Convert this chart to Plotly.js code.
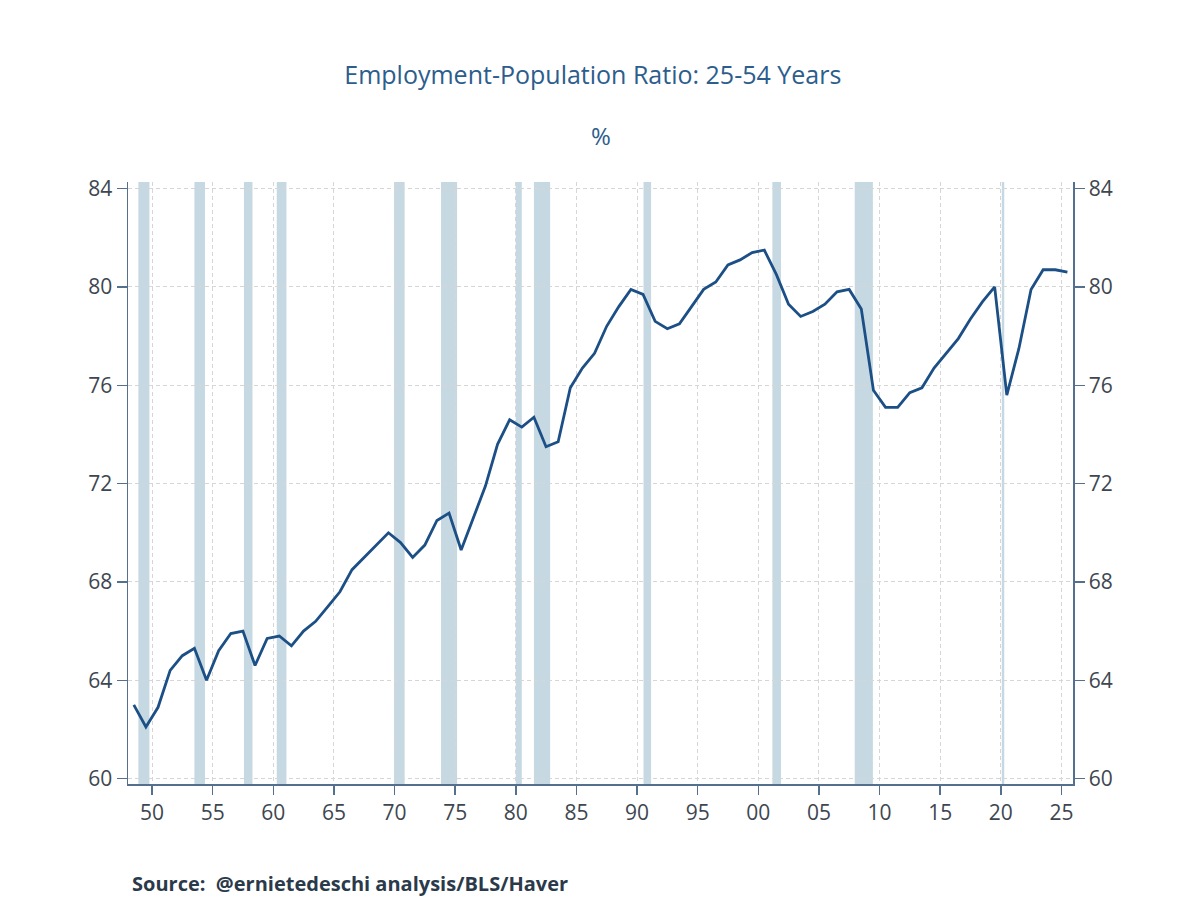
<!DOCTYPE html>
<html>
<head>
<meta charset="utf-8">
<script src="https://cdn.plot.ly/plotly-3.0.1.min.js"></script>
<style>html,body{margin:0;padding:0;background:#fff;}#chart{width:1200px;height:900px;}</style>
</head>
<body>
<div id="chart"></div>
<script>
// Annual averages, 25-54 employment-population ratio (%)
const years = [1948,1949,1950,1951,1952,1953,1954,1955,1956,1957,1958,1959,1960,1961,1962,1963,1964,1965,1966,1967,1968,1969,
  1970,1971,1972,1973,1974,1975,1976,1977,1978,1979,1980,1981,1982,1983,1984,1985,1986,1987,1988,1989,
  1990,1991,1992,1993,1994,1995,1996,1997,1998,1999,2000,2001,2002,2003,2004,2005,2006,2007,2008,2009,
  2010,2011,2012,2013,2014,2015,2016,2017,2018,2019,2020,2021,2022,2023,2024,2025];
const epop = [63.0,62.1,62.9,64.4,65.0,65.3,64.0,65.2,65.9,66.0,64.6,65.7,65.8,65.4,66.0,66.4,67.0,67.6,68.5,69.0,69.5,70.0,
  69.6,69.0,69.5,70.5,70.8,69.3,70.6,71.9,73.6,74.6,74.3,74.7,73.5,73.7,75.9,76.7,77.3,78.4,79.2,79.9,
  79.7,78.6,78.3,78.5,79.2,79.9,80.2,80.9,81.1,81.4,81.5,80.5,79.3,78.8,79.0,79.3,79.8,79.9,79.1,75.8,
  75.1,75.1,75.7,75.9,76.7,77.3,77.9,78.7,79.4,80.0,75.6,77.5,79.9,80.7,80.7,80.6];
// NBER recessions (start, end)
const recStart = ["1948-11-15","1953-07-01","1957-08-01","1960-04-15","1969-12-15","1973-11-01","1980-01-01","1981-07-01","1990-07-15","2001-03-01","2007-12-15","2020-02-01"];
const recEnd   = ["1949-10-15","1954-05-15","1958-04-15","1961-02-01","1970-11-01","1975-03-01","1980-07-01","1982-11-01","1991-03-01","2001-11-15","2009-06-15","2020-04-15"];
const yTicks = [60,64,68,72,76,80,84];

const xs = years.map(y => y + "-07-01");
const lineColor = "#1b4f85";
const axisColor = "#55708f";
const tickFont = {family:"Open Sans, sans-serif", size:21, color:"#3e4650"};

const traces = [
  {x: xs, y: epop, type:"scatter", mode:"lines", line:{color:lineColor, width:2.8}, hoverinfo:"x+y", showlegend:false},
  {x: xs, y: epop, type:"scatter", mode:"lines", yaxis:"y2", line:{color:"rgba(0,0,0,0)", width:0}, hoverinfo:"skip", showlegend:false}
];

const shapes = recStart.map((s,i) => ({
  type:"rect", xref:"x", yref:"paper", x0:s, x1:recEnd[i], y0:0, y1:1,
  fillcolor:"#c6d9e3", line:{width:0}, layer:"between"
}));

const yax = {
  range:[59.78, 84.27], tickvals:yTicks, ticktext:yTicks.map(String),
  showline:true, linecolor:axisColor, linewidth:1.5, ticks:"outside", ticklen:10, tickwidth:1.5, tickcolor:axisColor,
  showgrid:true, gridcolor:"#d6d6d6", griddash:"4px,3px", gridwidth:1, zeroline:false, tickfont:tickFont, fixedrange:true
};

const layout = {
  width:1200, height:900,
  margin:{l:128, r:127, t:182, b:116},
  paper_bgcolor:"#fff", plot_bgcolor:"#fff",
  title:{text:"Employment-Population Ratio: 25-54 Years", x:0.494, xanchor:"center", y:1-75/900, yanchor:"middle", yref:"container",
    font:{family:"Open Sans, sans-serif", size:25, color:"#2c5d8c"}},
  xaxis:{
    type:"date", range:["1948-01-08","2025-12-16"], tick0:"1950-01-01", dtick:"M60", tickformat:"%y",
    showline:true, linecolor:axisColor, linewidth:1.5, ticks:"outside", ticklen:9, tickwidth:1.5, tickcolor:axisColor,
    showgrid:true, gridcolor:"#d6d6d6", griddash:"4px,3px", gridwidth:1, zeroline:false, tickfont:tickFont, fixedrange:true
  },
  yaxis: Object.assign({}, yax, {side:"left"}),
  yaxis2: Object.assign({}, yax, {side:"right", overlaying:"y", showgrid:false}),
  shapes: shapes,
  annotations:[
    {text:"%", xref:"paper", yref:"paper", x:0.5, y:(784.3-135)/602.6, xanchor:"center", yanchor:"middle", showarrow:false,
      font:{family:"Open Sans, sans-serif", size:24, color:"#2c5d8c"}},
    {text:"Source:\u00a0 @ernietedeschi analysis/BLS/Haver", xref:"paper", yref:"paper", x:(130-128.3)/944.4, y:(784.3-884)/602.6,
      xanchor:"left", yanchor:"middle", showarrow:false,
      font:{family:"Open Sans, sans-serif", size:20, color:"#2b3a4a", weight:"bold"}}
  ],
  showlegend:false
};

Plotly.newPlot("chart", traces, layout, {displayModeBar:false, staticPlot:true});
</script>
</body>
</html>
